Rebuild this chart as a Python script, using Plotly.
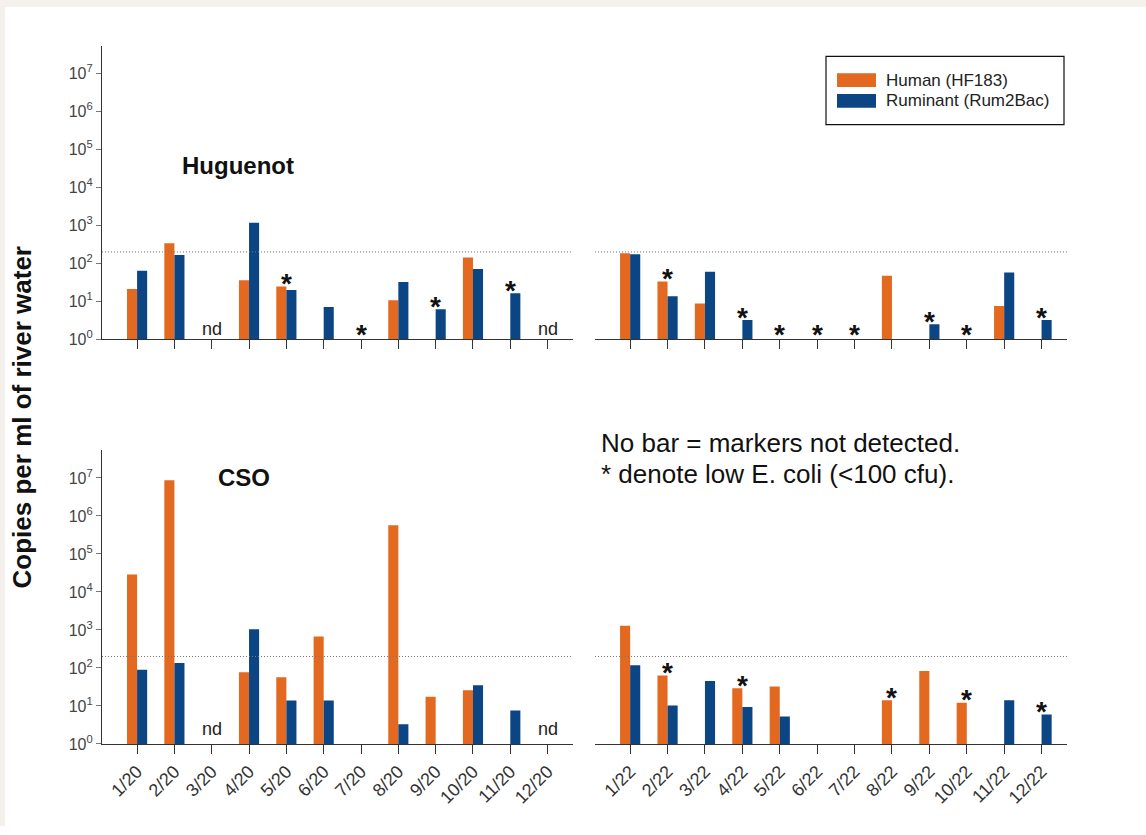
import plotly.graph_objects as go
import math

# ---- data -------------------------------------------------------------
months_2020 = ["1/20", "2/20", "3/20", "4/20", "5/20", "6/20",
               "7/20", "8/20", "9/20", "10/20", "11/20", "12/20"]
months_2022 = ["1/22", "2/22", "3/22", "4/22", "5/22", "6/22",
               "7/22", "8/22", "9/22", "10/22", "11/22", "12/22"]

series_names = ["Human (HF183)", "Ruminant (Rum2Bac)"]

# Huguenot site (copies per ml); None = marker not detected
hug_human_2020 = [21, 340, None, 36, 24.5, None, None, 10.6, None, 143, None, None]
hug_rum_2020 = [64, 165, None, 1170, 20, 7.1, None, 32, 6.2, 71, 16.4, None]
hug_human_2022 = [185, 33, 8.7, None, None, None, None, 47, None, None, 7.5, None]
hug_rum_2022 = [174, 13.5, 60, 3.2, None, None, None, None, 2.5, None, 57, 3.2]

# CSO site
cso_human_2020 = [29000, 8.7e6, None, 77, 57, 670, None, 570000, 17.5, 26, None, None]
cso_rum_2020 = [90, 135, None, 1040, 13.8, 13.8, None, 3.3, None, 35, 7.6, None]
cso_human_2022 = [1290, 63, None, 29, 32.5, None, None, 14, 83, 12.2, None, None]
cso_rum_2022 = [118, 10.2, 45, 9.4, 5.3, None, None, None, None, None, 14, 5.9]

# low E. coli flags (*) and "nd" (no data) flags per month
hug_star_2020 = [0, 0, 0, 0, 1, 0, 1, 0, 1, 0, 1, 0]
hug_star_2022 = [0, 1, 0, 1, 1, 1, 1, 0, 1, 1, 0, 1]
cso_star_2020 = [0] * 12
cso_star_2022 = [0, 1, 0, 1, 0, 0, 0, 1, 0, 1, 0, 1]
nd_2020 = [0, 0, 1, 0, 0, 0, 0, 0, 0, 0, 0, 1]

threshold = 200
y_tick_vals = [10 ** k for k in range(8)]
y_tick_text = ["10<sup>%d</sup>" % k for k in range(8)]

# ---- styling ----------------------------------------------------------
W, H = 1146, 835
ORANGE = "#E2691F"
BLUE = "#0B4584"
AXIS = "#333333"
FONT = "Liberation Sans, Arial, sans-serif"


def px(x):
    return x / W


def py(y):
    return 1 - y / H


def paper_text(x, y, text, size, xanchor="center", angle=0, color="#111"):
    return dict(x=px(x), y=py(y), xref="paper", yref="paper", text=text,
                xanchor=xanchor, yanchor="middle", textangle=angle, showarrow=False,
                font=dict(size=size, color=color, family=FONT))


panels = [
    # (x axis id, y axis id, x domain px, y domain px, months, human, rum, stars, nd, show x labels, left panel)
    ("x", "y", (102, 573), (47, 343), months_2020, hug_human_2020, hug_rum_2020, hug_star_2020, nd_2020, False, True),
    ("x2", "y2", (595, 1067), (47, 343), months_2022, hug_human_2022, hug_rum_2022, hug_star_2022, None, False, False),
    ("x3", "y3", (102, 573), (455, 752), months_2020, cso_human_2020, cso_rum_2020, cso_star_2020, nd_2020, True, True),
    ("x4", "y4", (595, 1067), (455, 752), months_2022, cso_human_2022, cso_rum_2022, cso_star_2022, None, True, False),
]

fig = go.Figure()
layout = {}
annotations = []
shapes = []

# light beige frame along the top and left edges
shapes.append(dict(type="rect", xref="paper", yref="paper", x0=0, x1=1, y0=py(7), y1=1,
                   fillcolor="#F4F0EC", line=dict(width=0), layer="below"))
shapes.append(dict(type="rect", xref="paper", yref="paper", x0=0, x1=px(5), y0=0, y1=1,
                   fillcolor="#F4F0EC", line=dict(width=0), layer="below"))

DECADE_PX = 38.4
for idx, (xa, ya, xd, yd, months, human, rum, stars, nd, xlabels, left) in enumerate(panels):
    xs = list(range(len(months)))
    for name, vals, col in ((series_names[0], human, ORANGE), (series_names[1], rum, BLUE)):
        fig.add_trace(go.Bar(x=xs, y=vals, name=name, marker=dict(color=col, line=dict(width=0)),
                             xaxis=xa, yaxis=ya, showlegend=False))
    xkey = "xaxis" + xa[1:]
    ykey = "yaxis" + ya[1:]
    ytop = (yd[1] - yd[0]) / DECADE_PX
    layout[xkey] = dict(domain=[px(xd[0]), px(xd[1])], anchor=ya, range=[-0.94, 11.68],
                        tickmode="array", tickvals=xs, ticktext=months,
                        showticklabels=xlabels, tickangle=-45,
                        tickfont=dict(size=18, color="#333", family=FONT),
                        ticks="outside", ticklen=9, tickcolor=AXIS, tickwidth=1,
                        showline=True, linecolor=AXIS, linewidth=1.2,
                        showgrid=False, zeroline=False, fixedrange=True)
    layout[ykey] = dict(domain=[py(yd[1]), py(yd[0])], anchor=xa, type="log", range=[0, ytop],
                        tickmode="array", tickvals=y_tick_vals, ticktext=y_tick_text,
                        showticklabels=left, tickfont=dict(size=16, color="#444", family=FONT),
                        ticks="outside" if left else "", ticklen=5, tickcolor="#777",
                        showline=left, linecolor=AXIS, linewidth=1.2,
                        showgrid=False, zeroline=False, fixedrange=True)

    # dotted reference line at the threshold
    shapes.append(dict(type="line", xref=xa + " domain", yref=ya, x0=0, x1=1,
                       y0=threshold, y1=threshold,
                       line=dict(color="#777", width=1, dash="1px,2px")))

    # asterisks above each flagged month
    for i, s in enumerate(stars):
        if not s:
            continue
        vals = [v for v in (human[i], rum[i]) if v is not None]
        top = math.log10(max(vals)) if vals else 0
        annotations.append(dict(x=i, y=top, xref=xa, yref=ya, text="<b>*</b>", showarrow=False,
                                font=dict(size=28, color="#111", family=FONT),
                                xanchor="center", yanchor="middle", yshift=3 if vals else 5))
    if nd:
        for i, f in enumerate(nd):
            if f:
                annotations.append(dict(x=i, y=0, xref=xa, yref=ya, text="nd", showarrow=False,
                                        font=dict(size=18, color="#222", family=FONT),
                                        xanchor="center", yanchor="middle", yshift=10 if idx < 2 else 15))

# panel titles
annotations.append(paper_text(238, 167, "<b>Huguenot</b>", 24))
annotations.append(paper_text(244, 483, "<b>CSO</b>", 24))

# shared y title
annotations.append(paper_text(22, 422, "<b>Copies per ml of river water</b>", 26, angle=-90))

# notes
annotations.append(paper_text(599, 448, "No bar = markers not detected.", 26, xanchor="left"))
annotations.append(paper_text(599, 479, "* denote low E. coli (<100 cfu).", 26, xanchor="left"))

# legend box
shapes.append(dict(type="rect", xref="paper", yref="paper", x0=px(826), x1=px(1064),
                   y0=py(126), y1=py(57), line=dict(color="#111", width=1.2), fillcolor="white"))
for (name, col, yc) in ((series_names[0], ORANGE, 81), (series_names[1], BLUE, 102)):
    shapes.append(dict(type="rect", xref="paper", yref="paper", x0=px(837), x1=px(876),
                       y0=py(yc + 7), y1=py(yc - 7), line=dict(width=0), fillcolor=col))
    annotations.append(paper_text(884, yc, name, 17, xanchor="left", color="#222"))

fig.update_layout(
    width=W, height=H, margin=dict(l=0, r=0, t=0, b=0),
    paper_bgcolor="white", plot_bgcolor="white",
    barmode="group", bargap=0.46, bargroupgap=0,
    showlegend=False, annotations=annotations, shapes=shapes,
    **layout,
)

fig.write_html("out.html")
